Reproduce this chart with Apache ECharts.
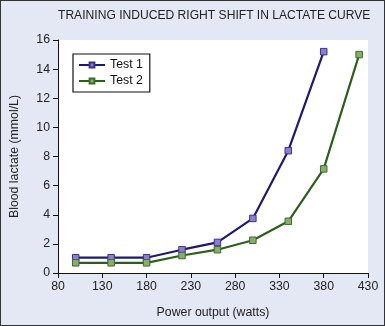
<!DOCTYPE html>
<html><head><meta charset="utf-8">
<script src="https://cdn.jsdelivr.net/npm/echarts@6/dist/echarts.min.js"></script>
<style>html,body{margin:0;padding:0;background:#e4e8f4;}#c{width:385px;height:326px;box-sizing:border-box;border:1px solid #333;}</style>
</head><body><div id="c"></div>
<script>
const powerTest1 = [100,140,180,220,260,300,340,380];
const lactateTest1 = [1.05,1.05,1.05,1.6,2.1,3.75,8.4,15.2];
const powerTest2 = [100,140,180,220,260,300,340,380,420];
const lactateTest2 = [0.7,0.7,0.7,1.2,1.6,2.25,3.55,7.15,15.0];
const seriesNames = ['Test 1','Test 2'];
const titleText = 'TRAINING INDUCED RIGHT SHIFT IN LACTATE CURVE';
const xName = 'Power output (watts)';
const yName = 'Blood lactate (mmol/L)';

const font = 'Liberation Sans, Arial, sans-serif';
const fs = 12.3;
const chart = echarts.init(document.getElementById('c'), null, {renderer:'canvas'});
const pair = (xs, ys) => xs.map((x,i)=>[x, ys[i]]);
chart.setOption({
  backgroundColor: '#e4e8f4',
  animation: false,
  title: {text: titleText, left: 52, top: 4,
    textStyle: {fontFamily: font, fontSize: 12.1, fontWeight: 'normal', color: '#222'}},
  grid: {left: 54, right: 16, top: 39, bottom: 52, show: true, backgroundColor: '#fff', borderWidth: 0},
  legend: {
    orient: 'vertical', left: 72, top: 53, padding: [5,7,5,5], itemGap: 4,
    itemWidth: 26, itemHeight: 6,
    backgroundColor: '#fff', borderColor: '#111', borderWidth: 1.2,
    textStyle: {fontFamily: font, fontSize: fs, color: '#111'},
    data: seriesNames
  },
  xAxis: {
    type: 'value', min: 80, max: 430, interval: 50,
    name: xName, nameLocation: 'middle', nameGap: 34,
    nameTextStyle: {fontFamily: font, fontSize: fs, color: '#222'},
    axisLine: {lineStyle: {color: '#111', width: 1}},
    axisTick: {show: true, length: 5, lineStyle: {color: '#111'}},
    axisLabel: {fontFamily: font, fontSize: fs, color: '#222', margin: 8},
    splitLine: {show: false}
  },
  yAxis: {
    type: 'value', min: 0, max: 16, interval: 2,
    name: yName, nameLocation: 'middle', nameGap: 37,
    nameTextStyle: {fontFamily: font, fontSize: fs, color: '#222'},
    axisLine: {show: true, lineStyle: {color: '#111', width: 1}},
    axisTick: {show: true, length: 5, lineStyle: {color: '#111'}},
    axisLabel: {fontFamily: font, fontSize: fs, color: '#222', margin: 8},
    splitLine: {show: false}
  },
  series: [
    {name: seriesNames[0], type: 'line', data: pair(powerTest1, lactateTest1),
     symbol: 'rect', symbolSize: 6.5,
     lineStyle: {color: '#1e1a6e', width: 2.2},
     itemStyle: {color: '#8a7fc8', borderColor: '#3a3090', borderWidth: 1}},
    {name: seriesNames[1], type: 'line', data: pair(powerTest2, lactateTest2),
     symbol: 'rect', symbolSize: 6.5,
     lineStyle: {color: '#2c5e1e', width: 2.2},
     itemStyle: {color: '#8aac72', borderColor: '#3e6a2a', borderWidth: 1}}
  ]
});
</script></body></html>
